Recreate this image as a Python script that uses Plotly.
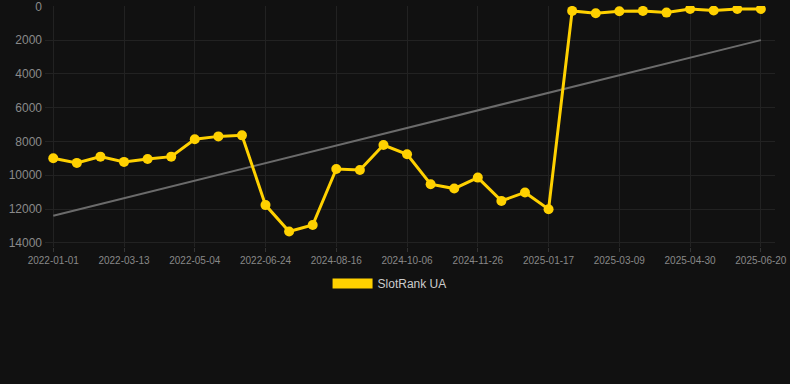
import plotly.graph_objects as go

dates = [
    "2022-01-01", "2022-01-25", "2022-02-17", "2022-03-13", "2022-03-30", "2022-04-17",
    "2022-05-04", "2022-05-21", "2022-06-07", "2022-06-24", "2022-07-11", "2022-07-28",
    "2024-08-16", "2024-09-02", "2024-09-19", "2024-10-06", "2024-10-23", "2024-11-09",
    "2024-11-26", "2024-12-13", "2024-12-31", "2025-01-17", "2025-02-03", "2025-02-20",
    "2025-03-09", "2025-03-26", "2025-04-13", "2025-04-30", "2025-05-17", "2025-06-03",
    "2025-06-20",
]
rank = [
    9000, 9270, 8900, 9210, 9040, 8900,
    7870, 7700, 7640, 11770, 13330, 12950,
    9630, 9690, 8210, 8760, 10530, 10790,
    10140, 11520, 11020, 12010, 270, 410,
    290, 270, 370, 160, 250, 160,
    160,
]
trend_dates = [dates[0], dates[-1]]
trend_values = [12400, 2000]
tick_labels = dates[::3]
y_ticks = [0, 2000, 4000, 6000, 8000, 10000, 12000, 14000]
y_tick_text = ["0", "2000", "4000", "6000", "8000", "10000", "12000", "14000"]

GOLD = "#FFD100"
fig = go.Figure()
fig.add_trace(go.Scatter(
    x=trend_dates, y=trend_values, mode="lines", showlegend=False, hoverinfo="skip",
    line=dict(color="#6b6b6b", width=2),
))
fig.add_trace(go.Scatter(
    x=dates, y=rank, mode="lines+markers", showlegend=False, name="SlotRank UA",
    line=dict(color=GOLD, width=3), marker=dict(color=GOLD, size=10),
))
fig.add_trace(go.Scatter(
    x=[None], y=[None], mode="lines", name="SlotRank UA",
    line=dict(color=GOLD, width=12),
))

fig.update_layout(
    width=790, height=384,
    paper_bgcolor="#111111", plot_bgcolor="#111111",
    margin=dict(l=45, r=15, t=6, b=137, autoexpand=False),
    font=dict(family="Liberation Sans, Arial, sans-serif", color="#8a8a8a"),
    showlegend=True,
    legend=dict(orientation="h", x=0.472, xanchor="center", y=-0.091, yanchor="top",
                font=dict(size=12, color="#cccccc"), itemwidth=40, bgcolor="rgba(0,0,0,0)"),
    xaxis=dict(
        type="category", categoryorder="array", categoryarray=dates,
        range=[-0.35, 30.6], automargin=False,
        tickmode="array", tickvals=tick_labels, ticktext=tick_labels,
        tickfont=dict(size=10, color="#888888"),
        showgrid=True, gridcolor="#222222", gridwidth=1,
        zeroline=False, showline=False, ticks="outside", ticklen=4, tickcolor="#333333",
    ),
    yaxis=dict(
        range=[14250, -20], automargin=False,
        tickmode="array", tickvals=y_ticks, ticktext=y_tick_text,
        tickfont=dict(size=12, color="#8a8a8a"), ticklabeloverflow="allow",
        showgrid=True, gridcolor="#222222", gridwidth=1,
        zeroline=False, showline=False, ticks="", ticklabelstandoff=2,
    ),
)

fig.write_html(
    "out.html",
    config={"displayModeBar": False},
    post_script="document.body.style.margin='0';document.body.style.background='#111111';",
)
